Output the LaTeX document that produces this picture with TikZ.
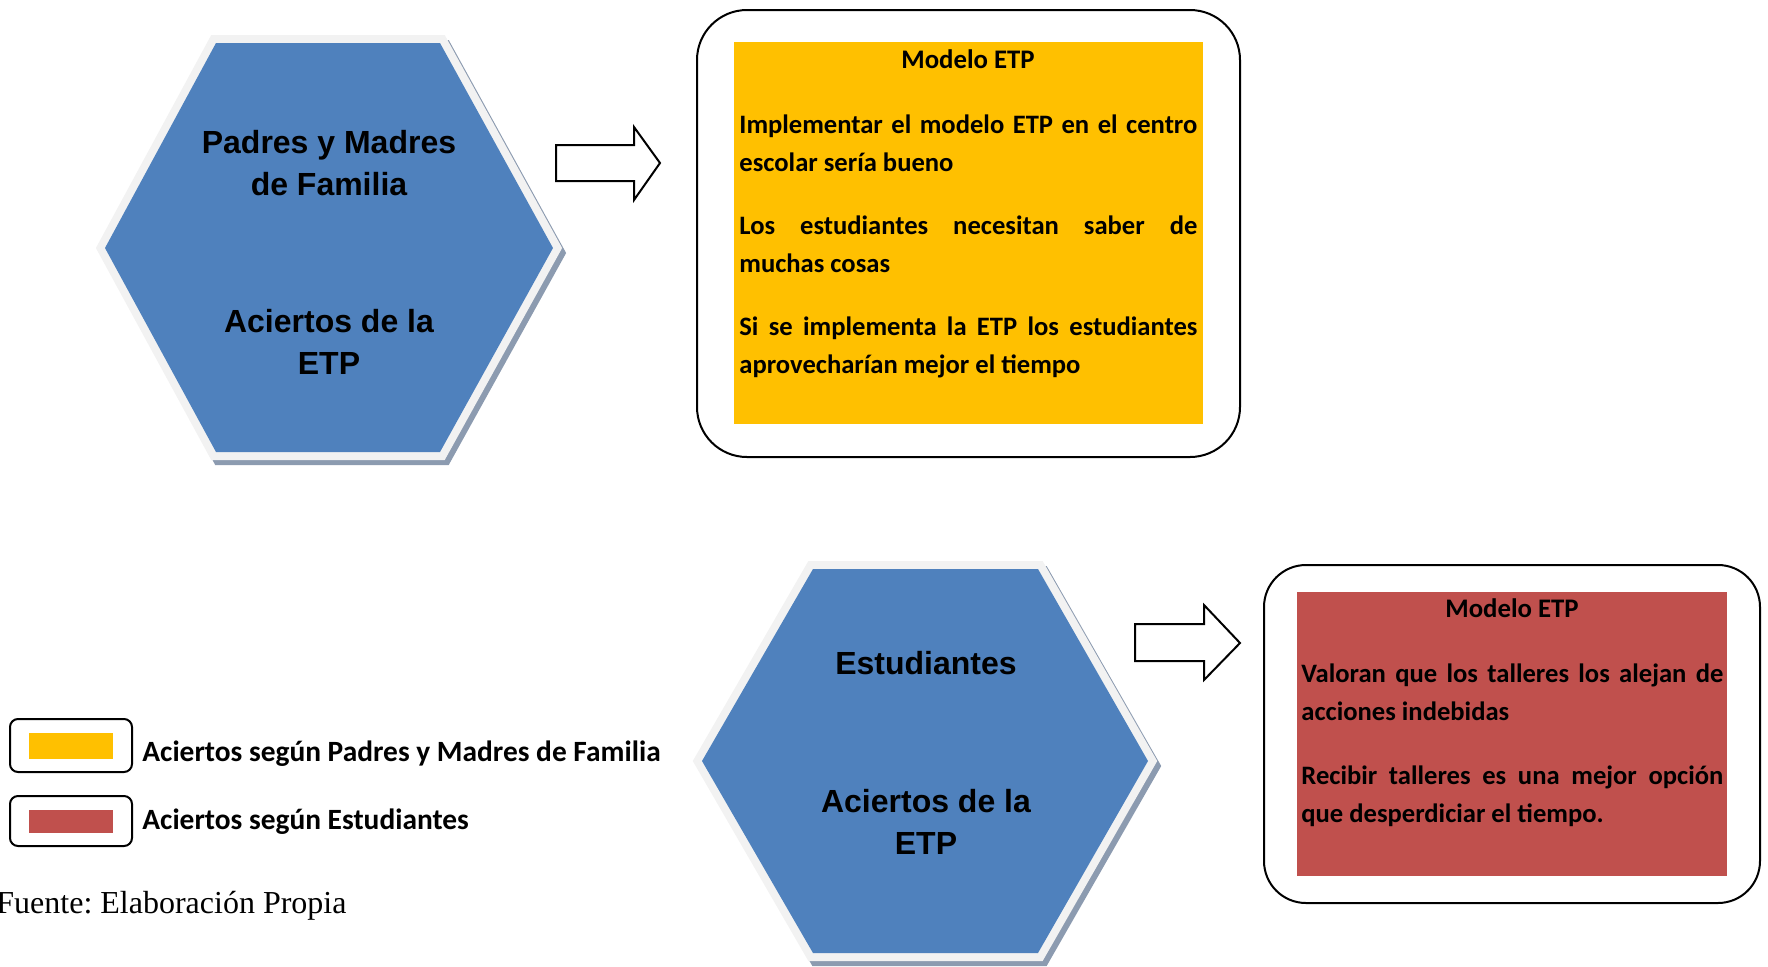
\documentclass[tikz,border=0pt]{standalone}
\usepackage{fontspec}
\setmainfont{Carlito}
\newfontfamily\arialfont{Liberation Sans}
\newfontfamily\timesfont{Liberation Serif}
\usetikzlibrary{positioning}

\definecolor{hexblue}{HTML}{4F81BD}
\definecolor{rimgray}{HTML}{F2F2F2}
\definecolor{shadegray}{HTML}{8C9BB0}
\definecolor{etpyellow}{HTML}{FFC000}
\definecolor{etpred}{HTML}{C0504D}

\begin{document}
\begin{tikzpicture}[x=0.5pt, y=-0.5pt,
    hexshade/.style={draw=shadegray, fill=shadegray, line width=8pt, line join=miter},
    hexrim/.style={draw=rimgray, fill=rimgray, line width=8pt, line join=miter},
    hexbody/.style={fill=hexblue},
    hextext/.style={align=center, inner sep=0pt, font=\arialfont\bfseries\fontsize{16}{21}\selectfont},
    frame/.style={draw, line width=1pt, rounded corners=25pt},
    titletext/.style={inner sep=0pt, font=\bfseries\fontsize{13.4}{19}\selectfont},
    paratext/.style={inner sep=0pt, align=justify, font=\bfseries\fontsize{13.3}{19}\selectfont},
    blockarrow/.style={draw, line width=1pt, fill=white, line join=miter},
    legendbox/.style={draw, line width=1pt, rounded corners=4pt},
    legendtext/.style={inner sep=0pt, font=\bfseries\fontsize{14.7}{19}\selectfont}]

    \useasboundingbox (0,0) rectangle (1768,966);

    % Hexagon: Padres y Madres
    \def\hexA{(216,43) -- (440,43) -- (553,248) -- (440,452) -- (216,452) -- (105,248) -- cycle}
    \draw[hexshade, shift={(4,5)}] \hexA;
    \draw[hexrim] \hexA;
    \fill[hexbody] \hexA;
    \node[hextext, anchor=base] (padres) at (329,195) {Padres y Madres\\de Familia};
    \node[hextext, anchor=base] (aciertosA) at (329,374) {Aciertos de la\\ETP};

    % Hexagon: Estudiantes
    \def\hexB{(813,569) -- (1038,569) -- (1148,761) -- (1038,953) -- (813,953) -- (702,761) -- cycle}
    \draw[hexshade, shift={(4,5)}] \hexB;
    \draw[hexrim] \hexB;
    \fill[hexbody] \hexB;
    \node[hextext, anchor=base] (estud) at (926,674) {Estudiantes};
    \node[hextext, anchor=base] (aciertosB) at (926,854) {Aciertos de la\\ETP};

    % Block arrows
    \draw[blockarrow] (556,145) -- (634,145) -- (634,127) -- (660,163) -- (634,200) -- (634,181) -- (556,181) -- cycle;
    \draw[blockarrow] (1135,624) -- (1204,624) -- (1204,605) -- (1240,643) -- (1204,680) -- (1204,661) -- (1135,661) -- cycle;

    % Box: Padres y Madres
    \draw[frame] (697,10) rectangle (1240,457);
    \fill[etpyellow] (734,42) rectangle (1203,424);
    \node[titletext, anchor=base] (modeloA) at (968,68) {Modelo ETP};
    \node[paratext, text width=229pt, anchor=base west] (textA) at (739,133)
        {Implementar el modelo ETP en el centro\linebreak escolar sería bueno\par\vspace{12.5pt}
         Los estudiantes necesitan saber de\linebreak muchas cosas\par\vspace{12.5pt}
         Si se implementa la ETP los estudiantes\linebreak aprovecharían mejor el tiempo};

    % Box: Estudiantes
    \draw[frame, rounded corners=21pt] (1264,565) rectangle (1760,903);
    \fill[etpred] (1297,592) rectangle (1727,876);
    \node[titletext, anchor=base] (modeloB) at (1512,617) {Modelo ETP};
    \node[paratext, text width=211pt, anchor=base west] (textB) at (1301,682)
        {Valoran que los talleres los alejan de\linebreak acciones indebidas\par\vspace{13pt}
         Recibir talleres es una mejor opción\linebreak que desperdiciar el tiempo.};

    % Legend
    \draw[legendbox] (10,719) rectangle (132,772);
    \fill[etpyellow] (29,733) rectangle (113,759);
    \node[legendtext, anchor=base west] (legA) at (142,761) {Aciertos según Padres y Madres de Familia};
    \draw[legendbox] (10,796) rectangle (132,846);
    \fill[etpred] (29,810) rectangle (113,833);
    \node[legendtext, anchor=base west] (legB) at (142,829) {Aciertos según Estudiantes};

    % Source
    \node[inner sep=0pt, anchor=base west, font=\timesfont\fontsize{16}{19}\selectfont] (fuente) at (-4,913) {Fuente:\ Elaboración Propia};
\end{tikzpicture}
\end{document}
